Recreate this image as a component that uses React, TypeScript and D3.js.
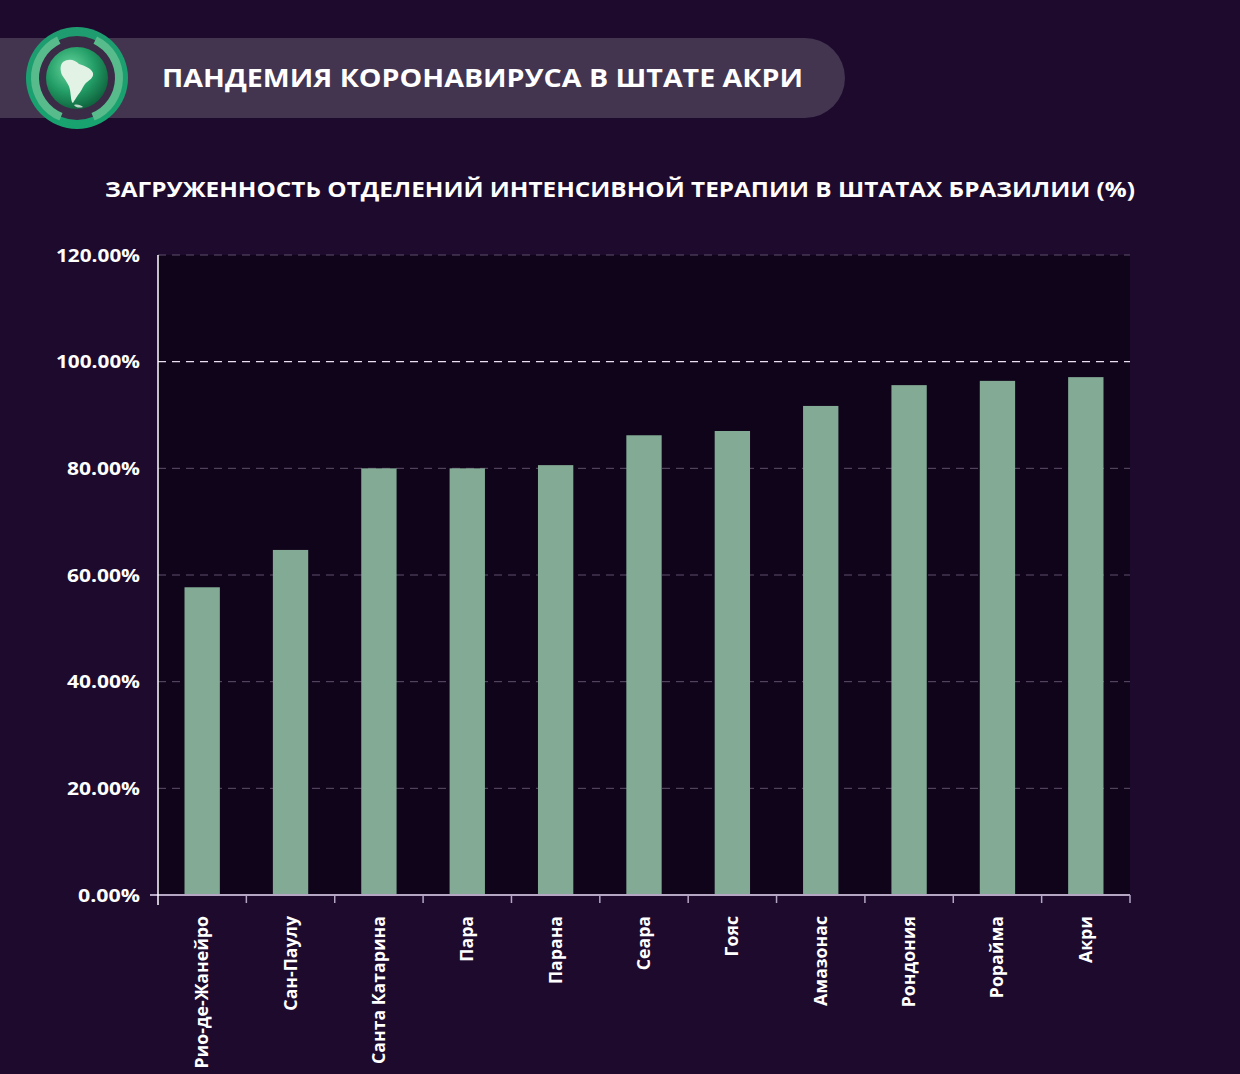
import React from "react";
import * as d3 from "d3";

const categories = ["Рио-де-Жанейро", "Сан-Паулу", "Санта Катарина", "Пара", "Парана", "Сеара", "Гояс", "Амазонас", "Рондония", "Рорайма", "Акри"];
const values = [57.7, 64.7, 80.0, 80.0, 80.6, 86.2, 87.0, 91.7, 95.6, 96.4, 97.1];
const yTicks = [0, 20, 40, 60, 80, 100, 120];
const headerTitle = "ПАНДЕМИЯ КОРОНАВИРУСА В ШТАТЕ АКРИ";
const chartTitle = "ЗАГРУЖЕННОСТЬ ОТДЕЛЕНИЙ ИНТЕНСИВНОЙ ТЕРАПИИ В ШТАТАХ БРАЗИЛИИ (%)";

const W = 1240, H = 1074;
const plot = { left: 158, right: 1130, top: 255, bottom: 895 };
const FONT = "'Open Sans', 'DejaVu Sans', sans-serif";

export default function App() {
  const x = d3.scaleBand<string>().domain(categories).range([plot.left, plot.right]).paddingInner(0.6).paddingOuter(0.3);
  const y = d3.scaleLinear().domain([0, 120]).range([plot.bottom, plot.top]);
  const boundaries = d3.range(categories.length + 1).map((i) => plot.left + i * (plot.right - plot.left) / categories.length);

  return (
    <svg width={W} height={H} style={{ display: "block", position: "absolute", left: 0, top: 0 }}>
      <defs>
        <radialGradient id="globe" cx="40%" cy="35%" r="70%">
          <stop offset="0%" stopColor="#6ad7a0" />
          <stop offset="55%" stopColor="#239d66" />
          <stop offset="100%" stopColor="#0d5e3a" />
        </radialGradient>
        <linearGradient id="ring" x1="0" y1="0" x2="0" y2="1">
          <stop offset="0%" stopColor="#1f9c70" />
          <stop offset="100%" stopColor="#17a36f" />
        </linearGradient>
      </defs>
      <rect x={0} y={0} width={W} height={H} fill="#1d0a2d" />
      <path d={`M0,38 H805 A40,40 0 0 1 805,118 H0 Z`} fill="#433450" />
      <g transform="translate(77,78)">
        <circle r={51} fill="url(#ring)" />
        <circle r={42} fill="#3a2c46" />
        <path d={d3.arc()({ innerRadius: 38, outerRadius: 46, startAngle: -2.75, endAngle: -0.45, cornerRadius: 4 }) || ""} fill="#58bb8c" />
        <path d={d3.arc()({ innerRadius: 38, outerRadius: 46, startAngle: 0.45, endAngle: 2.75, cornerRadius: 4 }) || ""} fill="#58bb8c" />
        <circle r={31} fill="url(#globe)" />
        <path d="M-14,-16 C-8,-20 -2,-18 2,-14 C8,-12 14,-10 16,-5 C17,0 12,2 8,6 C5,10 4,14 1,17 C-1,20 -3,23 -4,25 C-6,24 -6,18 -7,12 C-8,6 -12,2 -15,-3 C-17,-8 -17,-13 -14,-16 Z" fill="#e2f3e6" />
        <path d="M-3,27 C0,26 4,27 6,29 C3,30 -1,30 -3,27 Z" fill="#e2f3e6" opacity={0.8} />
      </g>
      <text x={162} y={87} fill="#ffffff" fontFamily={FONT} fontWeight={700} fontSize={25} textLength={641} lengthAdjust="spacingAndGlyphs">{headerTitle}</text>
      <text x={105} y={197} fill="#ffffff" fontFamily={FONT} fontWeight={700} fontSize={22} textLength={1030} lengthAdjust="spacingAndGlyphs">{chartTitle}</text>

      <rect x={plot.left} y={plot.top} width={plot.right - plot.left} height={plot.bottom - plot.top} fill="#10041a" />
      {yTicks.filter((t) => t > 0).map((t) => (
        <line key={t} x1={plot.left} x2={plot.right} y1={y(t)} y2={y(t)}
          stroke={t === 100 ? "#e8e0f0" : "#5e4f6c"} strokeWidth={t === 100 ? 1.3 : 1} strokeDasharray="8,6" />
      ))}
      {categories.map((c, i) => (
        <rect key={c} x={x(c)} y={y(values[i])} width={x.bandwidth()} height={y(0) - y(values[i])} fill="#82aa94" />
      ))}
      <line x1={150} x2={plot.right} y1={plot.bottom} y2={plot.bottom} stroke="#b5a6c3" strokeWidth={2} />
      {boundaries.slice(1).map((b, i) => (
        <line key={i} x1={b} x2={b} y1={plot.bottom} y2={plot.bottom + 8} stroke="#b5a6c3" strokeWidth={1.5} />
      ))}
      <line x1={plot.left} x2={plot.left} y1={plot.top} y2={plot.bottom + 10} stroke="#ffffff" strokeWidth={1.5} />
      {yTicks.map((t) => {
        const label = t.toFixed(2) + "%";
        return (
          <text key={t} x={140} y={y(t) + 6.5} textAnchor="end" fill="#ffffff" fontFamily={FONT} fontWeight={700} fontSize={18}
            textLength={label.length === 7 ? 84 : label.length === 6 ? 73 : 62} lengthAdjust="spacingAndGlyphs">
            {label}
          </text>
        );
      })}
      {categories.map((c) => {
        const cx = (x(c) || 0) + x.bandwidth() / 2;
        return (
          <g key={c} transform={`translate(${cx + 6},${916}) rotate(-90) scale(1.04,1)`}>
            <text textAnchor="end" fill="#ffffff" fontFamily={FONT} fontWeight={700} fontSize={17}>{c}</text>
          </g>
        );
      })}
    </svg>
  );
}
